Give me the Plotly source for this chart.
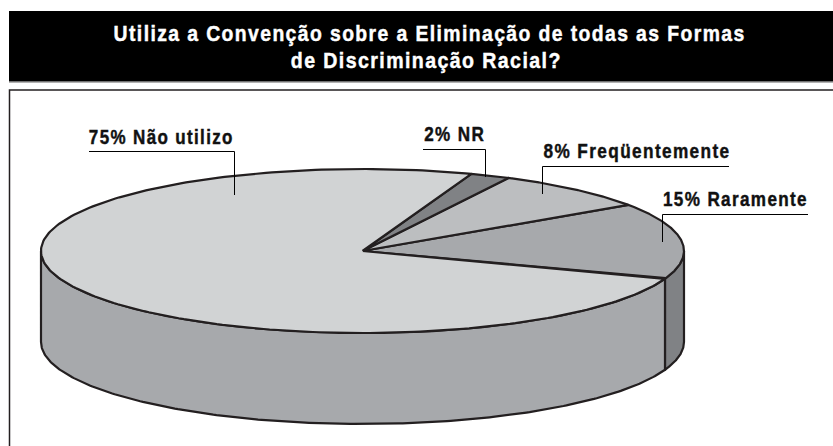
import json
import numpy as np
import plotly.graph_objects as go

categories = ["Raramente", "Freqüentemente", "NR", "Não utilizo"]
values = [15, 8, 2, 75]
labels = ["15% Raramente", "8% Freqüentemente", "2% NR", "75% Não utilizo"]
top_colors = ["#a7a9ac", "#bcbec0", "#808285", "#d1d3d4"]
title_lines = ["Utiliza a Convenção sobre a Eliminação de todas as Formas", "de Discriminação Racial?"]

W, H = 833, 446
CX, CY, RX, RY, DEPTH = 362.5, 251, 321.5, 82, 91
START = -19.8
INK = "#231f20"
SIDE_LIGHT, SIDE_DARK = "#a7a9ac", "#808285"
FONT = "Liberation Sans"


def pt(deg, dy=0.0):
    a = np.radians(deg)
    return CX + RX * np.cos(a), CY - RY * np.sin(a) + dy


def arc(a0, a1, dy=0.0, n=240):
    return pt(np.linspace(a0, a1, n), dy)


fig = go.Figure()


def poly(xs, ys, fill, lw=2.2):
    fig.add_trace(go.Scatter(x=list(xs), y=list(ys), mode="lines", fill="toself", fillcolor=fill,
                             line=dict(color=INK, width=lw), hoverinfo="skip", showlegend=False))


# side wall: only the front half of the disc is visible
for a0, a1, col in [(START, 0, SIDE_DARK), (-180, START, SIDE_LIGHT)]:
    tx, ty = arc(a0, a1)
    bx, by = arc(a1, a0, DEPTH)
    poly(np.r_[tx, bx, tx[:1]], np.r_[ty, by, ty[:1]], col)

# top face, one slice per value
a = START
for v, col in zip(values, top_colors):
    a1 = a + v * 3.6
    x, y = arc(a, a1)
    poly(np.r_[CX, x, CX], np.r_[CY, y, CY], col)
    a = a1

# label, text left, text right, text y, underline start, underline end, underline y, leader x, leader end y
leaders = [
    (labels[3], 89, 234, 136.5, 89, 234.5, 151.5, 234.5, 195),
    (labels[2], 424, 485, 134, 423, 485.5, 149.5, 485.5, 177),
    (labels[1], 543, 730, 151, 542.5, 729, 166.5, 542.5, 194),
    (labels[0], 663, 808, 199, 662.5, 808, 214.5, 662.5, 242),
]
anns = []
lengths = {}
for text, tl, tr, ty, x0, x1, yl, xv, yend in leaders:
    xs = [x0, x1, x1] if xv == x1 else [x1, x0, x0]
    fig.add_trace(go.Scatter(x=xs, y=[yl, yl, yend], mode="lines",
                             line=dict(color="#000000", width=1), hoverinfo="skip", showlegend=False))
    anns.append(dict(x=(tl + tr) / 2, y=ty, xref="x", yref="y", text=text, showarrow=False,
                     xanchor="center", yanchor="middle",
                     font=dict(family=FONT, size=20, color="#111111", weight="bold")))
    lengths[text] = tr - tl

title_spans = [(113, 745), (291, 562)]
for line, y, (tl, tr) in zip(title_lines, [33.5, 60], title_spans):
    anns.append(dict(x=(tl + tr) / 2, y=y, xref="x", yref="y", text=line, showarrow=False,
                     xanchor="center", yanchor="middle",
                     font=dict(family=FONT, size=22, color="#ffffff", weight="bold")))
    lengths[line] = tr - tl

shapes = [
    dict(type="rect", xref="x", yref="y", x0=9, x1=834, y0=11, y1=81.5, fillcolor="#000000", line_width=0, layer="below"),
    dict(type="line", xref="x", yref="y", x0=9, x1=834, y0=82, y1=82, line=dict(color="#666666", width=1), layer="below"),
    dict(type="path", xref="x", yref="y", path="M9.5,447 L9.5,90 L834,90", line=dict(color="#231f20", width=1.5), layer="below"),
]

fig.update_layout(
    width=W, height=H, autosize=False, margin=dict(l=0, r=0, t=0, b=0),
    paper_bgcolor="#ffffff", plot_bgcolor="#ffffff", showlegend=False,
    xaxis=dict(range=[0, W], visible=False, fixedrange=True),
    yaxis=dict(range=[H, 0], visible=False, fixedrange=True),
    annotations=anns, shapes=shapes,
)

post = """
document.body.style.margin='0';
var L = %s;
document.querySelectorAll('.annotation-text').forEach(function(t){
  var n = L[t.textContent];
  if(n){
    t.style.letterSpacing='1.6px';
    t.setAttribute('textLength', n);
    t.setAttribute('lengthAdjust','spacingAndGlyphs');
    t.style.stroke=getComputedStyle(t).fill;
    t.style.strokeWidth='0.45px';
  }
});
""" % json.dumps(lengths, ensure_ascii=False)
fig.write_html("out.html", post_script=post, config={"displayModeBar": False})
